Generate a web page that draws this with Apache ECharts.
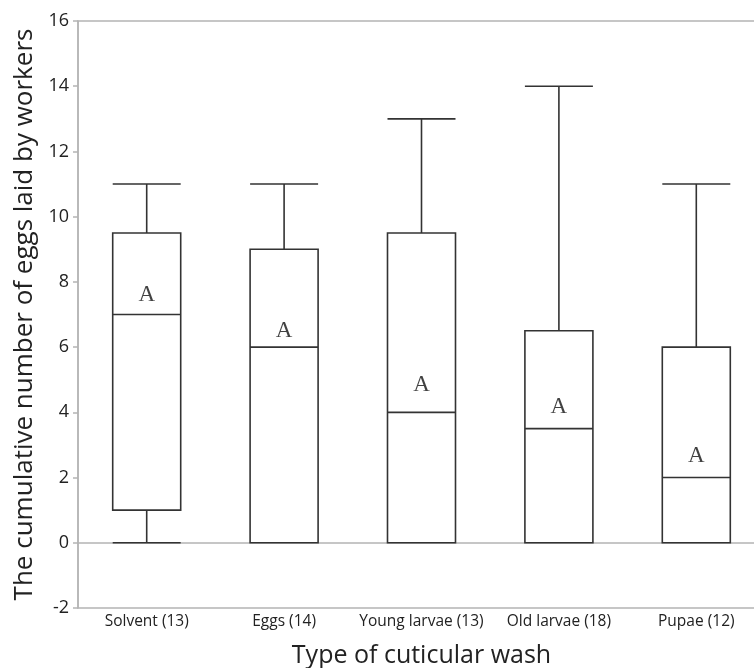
<!DOCTYPE html>
<html>
<head>
<meta charset="utf-8">
<script src="https://cdn.jsdelivr.net/npm/echarts@6/dist/echarts.min.js"></script>
<style>html,body{margin:0;padding:0;background:#fff}#c{width:754px;height:668px}</style>
</head>
<body>
<div id="c"></div>
<script>
var categories = ['Solvent (13)', 'Eggs (14)', 'Young larvae (13)', 'Old larvae (18)', 'Pupae (12)'];
var mins = [0, 0, 0, 0, 0];
var q1s = [1, 0, 0, 0, 0];
var medians = [7, 6, 4, 3.5, 2];
var q3s = [9.5, 9, 9.5, 6.5, 6];
var maxs = [11, 11, 13, 14, 11];
var letters = ['A', 'A', 'A', 'A', 'A'];
var letterPos = [7.6, 6.5, 4.84, 4.15, 2.66];
var yTicks = [-2, 0, 2, 4, 6, 8, 10, 12, 14, 16];

var boxData = categories.map(function (c, i) { return [mins[i], q1s[i], medians[i], q3s[i], maxs[i]]; });
var letterData = categories.map(function (c, i) { return { value: [c, letterPos[i]], label: { formatter: letters[i] } }; });

var chart = echarts.init(document.getElementById('c'));
var axisFont = 'Open Sans, Noto Sans, sans-serif';
chart.setOption({
  animation: false,
  grid: { left: 78, top: 21, bottom: 60, width: 687, outerBoundsMode: 'none', containLabel: false, show: true, borderColor: '#b4b4b4', borderWidth: 1.5 },
  xAxis: {
    type: 'category',
    data: categories,
    name: 'Type of cuticular wash',
    nameLocation: 'middle',
    nameGap: 35,
    nameTextStyle: { fontSize: 25, color: '#222', fontFamily: axisFont },
    axisLine: { lineStyle: { color: '#b4b4b4', width: 1.5 } },
    axisTick: { show: false },
    axisLabel: { interval: 0, fontSize: 15.5, color: '#222', fontFamily: axisFont, margin: 6 },
    splitLine: { show: false }
  },
  yAxis: {
    type: 'value',
    min: yTicks[0],
    max: yTicks[yTicks.length - 1],
    interval: 2,
    name: 'The cumulative number of eggs laid by workers',
    nameLocation: 'middle',
    nameGap: 38,
    nameTextStyle: { fontSize: 26, color: '#222', fontFamily: axisFont },
    axisLine: { show: true, lineStyle: { color: '#b4b4b4', width: 1.5 } },
    axisTick: { show: true, length: 5, lineStyle: { color: '#b4b4b4', width: 1.5 } },
    axisLabel: { fontSize: 18, color: '#222', fontFamily: axisFont, margin: 9 },
    splitLine: { show: false }
  },
  series: [
    {
      type: 'boxplot',
      data: boxData,
      boxWidth: [68, 68],
      itemStyle: { color: '#fff', borderColor: '#333', borderWidth: 1.6 },
      emphasis: { disabled: true }
    },
    {
      type: 'scatter',
      data: letterData,
      symbolSize: 0.1,
      itemStyle: { color: 'rgba(0,0,0,0)' },
      label: { show: true, position: 'inside', fontSize: 23, color: '#111', fontFamily: 'Liberation Serif, Times New Roman, serif' },
      emphasis: { disabled: true },
      z: 5
    }
  ]
});
</script>
</body>
</html>
